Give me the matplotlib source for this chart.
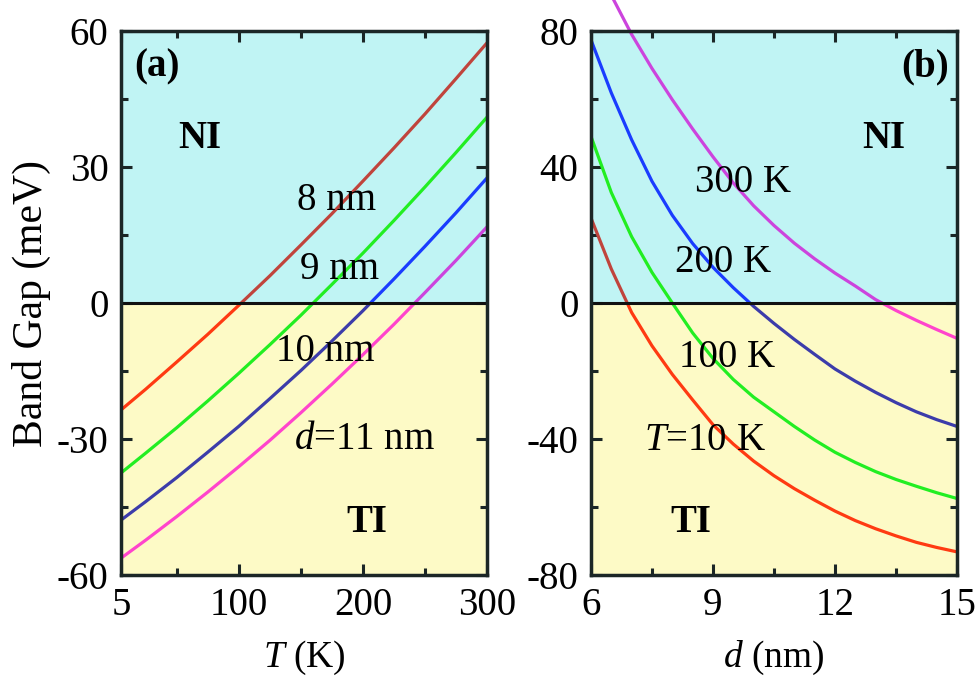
import matplotlib
matplotlib.use('Agg')
import matplotlib.pyplot as plt
from matplotlib.patches import Rectangle
from matplotlib.ticker import MultipleLocator

# data
temps = [5, 25, 50, 75, 100, 125, 150, 175, 200, 225, 250, 275, 300]
gap_8nm = [-23.6, -19.0, -13.0, -6.9, -0.5, 6.0, 12.8, 19.7, 26.9, 34.2, 41.7, 49.5, 57.4]
gap_9nm = [-37.5, -33.1, -27.5, -21.6, -15.5, -9.2, -2.7, 4.1, 11.0, 18.2, 25.6, 33.2, 41.0]
gap_10nm = [-47.9, -43.8, -38.5, -32.9, -27.2, -21.1, -14.9, -8.4, -1.7, 5.3, 12.5, 19.9, 27.6]
gap_11nm = [-56.3, -52.3, -47.1, -41.7, -36.1, -30.3, -24.2, -17.9, -11.4, -4.7, 2.3, 9.4, 16.8]

thick = [6, 6.5, 7, 7.5, 8, 8.5, 9, 9.5, 10, 10.5, 11, 11.5, 12, 12.5, 13, 13.5, 14, 14.5, 15]
gap_10K = [25.0, 10.0, -2.8, -12.6, -21.0, -28.5, -35.8, -41.5, -46.5, -50.8, -54.6, -58.0,
           -61.2, -64.0, -66.4, -68.5, -70.4, -71.9, -73.2]
gap_100K = [49.0, 32.5, 19.5, 9.0, 0.0, -8.8, -16.3, -22.5, -27.7, -32.0, -36.3, -40.3,
            -43.9, -46.9, -49.6, -51.9, -53.9, -55.8, -57.5]
gap_200K = [77.4, 61.8, 48.0, 35.8, 25.8, 17.5, 10.5, 4.5, -1.0, -6.0, -10.7, -15.1,
            -19.4, -23.0, -26.3, -29.3, -32.0, -34.3, -36.3]
gap_300K = [103, 90.5, 79.0, 69.0, 59.8, 51.2, 43.0, 35.3, 28.6, 22.8, 17.6, 13.0,
            8.8, 5.0, 1.0, -2.2, -5.1, -7.8, -10.4]

# (colour above zero, colour below zero)
red = ('#c0443c', '#ff3a12')
green = ('#22ee22', '#22ee22')
blue = ('#1a3cff', '#3c3caa')
magenta = ('#cc44dd', '#ff44cc')

plt.rcParams['font.family'] = ['Liberation Serif', 'DejaVu Serif']
plt.rcParams['mathtext.fontset'] = 'custom'
plt.rcParams['mathtext.rm'] = 'Liberation Serif'
plt.rcParams['mathtext.it'] = 'Liberation Serif:italic'
plt.rcParams['axes.unicode_minus'] = False
plt.rcParams['font.size'] = 28

cyan_bg = '#c0f4f4'
yellow_bg = '#fdfac6'
spine_col = '#1b2626'

fig = plt.figure(figsize=(9.77, 6.79), dpi=100)
ax1 = fig.add_axes([0.1238, 0.1532, 0.3747, 0.8011])
ax2 = fig.add_axes([0.6049, 0.1532, 0.3746, 0.8011])


def draw_curve(ax, x, y, cols, lim):
    x0, x1, y0, y1 = lim
    up = Rectangle((x0, 0), x1 - x0, y1 + 50, transform=ax.transData)
    down = Rectangle((x0, y0 - 50), x1 - x0, -y0 + 50, transform=ax.transData)
    l1, = ax.plot(x, y, color=cols[0], lw=2.3, zorder=3)
    l1.set_clip_path(up)
    l2, = ax.plot(x, y, color=cols[1], lw=2.3, zorder=3)
    l2.set_clip_path(down)


def style(ax, lim, xmaj, xmin, ymaj, ymin):
    x0, x1, y0, y1 = lim
    ax.set_xlim(x0, x1)
    ax.set_ylim(y0, y1)
    ax.axhspan(0, y1, color=cyan_bg, zorder=0, lw=0)
    ax.axhspan(y0, 0, color=yellow_bg, zorder=0, lw=0)
    ax.axhline(0, color='#111111', lw=2.2, zorder=4)
    ax.xaxis.set_major_locator(MultipleLocator(xmaj))
    ax.xaxis.set_minor_locator(MultipleLocator(xmin))
    ax.yaxis.set_major_locator(MultipleLocator(ymaj))
    ax.yaxis.set_minor_locator(MultipleLocator(ymin))
    ax.tick_params(which='both', direction='in', top=True, right=True,
                   width=2.2, color=spine_col, labelsize=28, pad=9)
    ax.tick_params(which='major', length=8)
    ax.tick_params(which='minor', length=5)
    for s in ax.spines.values():
        s.set_linewidth(2.5)
        s.set_color(spine_col)
        s.set_zorder(5)


# panel (a)
lim_a = (5, 300, -60, 60)
style(ax1, lim_a, 100, 50, 30, 15)
ax1.set_xticks([5, 100, 200, 300])
ax1.xaxis.set_minor_locator(MultipleLocator(50))
for g, c in zip([gap_8nm, gap_9nm, gap_10nm, gap_11nm], [red, green, blue, magenta]):
    draw_curve(ax1, temps, g, c, lim_a)
ax1.set_xlabel('$T$ (K)', fontsize=27, labelpad=10)
ax1.set_ylabel('Band Gap (meV)', fontsize=30, labelpad=4)

ax1.text(34, 52, '(a)', fontweight='bold', ha='center', va='center', zorder=6)
ax1.text(68.7, 36.4, 'NI', fontweight='bold', ha='center', va='center', zorder=6)
ax1.text(179, 22.7, '8 nm', ha='center', va='center', zorder=6)
ax1.text(181.5, 7.3, '9 nm', ha='center', va='center', zorder=6)
ax1.text(169.4, -10.8, '10 nm', ha='center', va='center', zorder=6)
ax1.text(201.7, -30.2, '$d$=11 nm', ha='center', va='center', zorder=6)
ax1.text(203, -48.5, 'TI', fontweight='bold', ha='center', va='center', zorder=6)

# panel (b)
lim_b = (6, 15, -80, 80)
style(ax2, lim_b, 3, 1.5, 40, 20)
for g, c in zip([gap_10K, gap_100K, gap_200K, gap_300K], [red, green, blue, magenta]):
    draw_curve(ax2, thick, g, c, lim_b)
ax2.set_xlabel('$d$ (nm)', fontsize=27, labelpad=10)

ax2.text(14.21, 69.4, '(b)', fontweight='bold', ha='center', va='center', zorder=6)
ax2.text(13.2, 48.5, 'NI', fontweight='bold', ha='center', va='center', zorder=6)
ax2.text(9.74, 35.3, '300 K', ha='center', va='center', zorder=6)
ax2.text(9.25, 11.8, '200 K', ha='center', va='center', zorder=6)
ax2.text(9.34, -15.9, '100 K', ha='center', va='center', zorder=6)
ax2.text(8.8, -40.3, '$T$=10 K', ha='center', va='center', zorder=6)
ax2.text(8.46, -64.7, 'TI', fontweight='bold', ha='center', va='center', zorder=6)

fig.savefig('out.png', dpi=100)
